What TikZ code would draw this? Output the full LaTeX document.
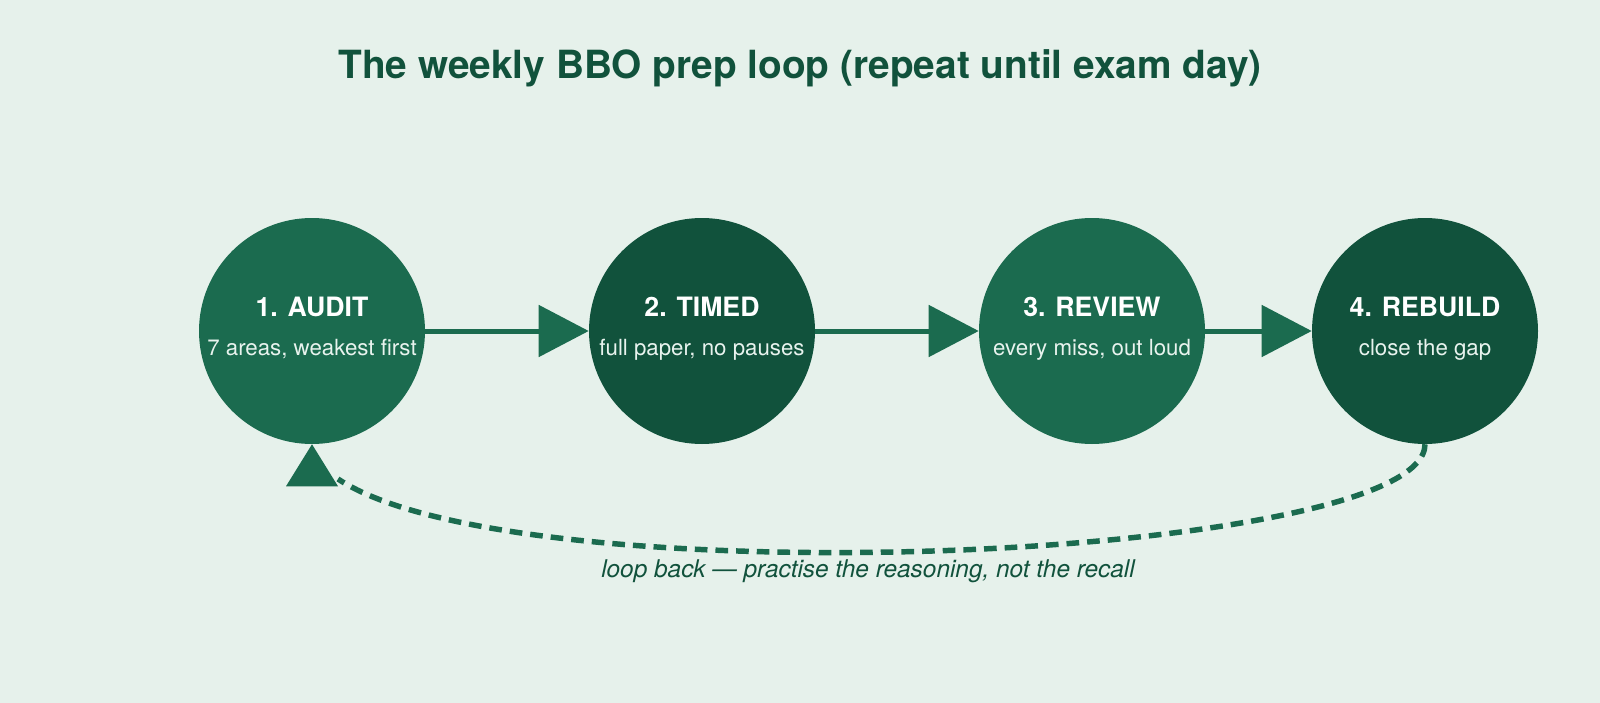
\documentclass[tikz,border=0pt]{standalone}
\usepackage{fontspec}
\setmainfont{TeX Gyre Heros}
\usetikzlibrary{arrows.meta}
\definecolor{bgc}{HTML}{E6F1EB}
\definecolor{midg}{HTML}{1B6B4F}
\definecolor{darkg}{HTML}{11523C}
\definecolor{softw}{HTML}{E8F3EE}
\tikzset{
  stepcircle/.style={circle, minimum size=169.5pt, inner sep=0pt, draw=none},
  stepA/.style={stepcircle, fill=midg},
  stepB/.style={stepcircle, fill=darkg},
  steptitle/.style={anchor=base, text=white, font=\fontsize{20pt}{24pt}\selectfont\bfseries, inner sep=0pt},
  stepsub/.style={anchor=base, text=softw, font=\fontsize{16.7pt}{20pt}\selectfont, inner sep=0pt},
  flowarrow/.style={draw=midg, line width=3.75pt, -{Triangle[length=37.5pt, width=38.25pt]}},
  loopline/.style={draw=midg, line width=4.1pt, dash pattern=on 9.5pt off 6pt},
}
\begin{document}
\begin{tikzpicture}[x=0.75pt, y=-0.75pt]
\fill[bgc] (0,0) rectangle (1600,703);
\useasboundingbox (0,0) rectangle (1600,703);

\node[anchor=base, text=darkg, font=\fontsize{29.1pt}{34pt}\selectfont\bfseries, inner sep=0pt] (title) at (800,78) {The weekly BBO prep loop (repeat until exam day)};

\node[stepA] (c1) at (312,331) {};
\node[stepB] (c2) at (702,331) {};
\node[stepA] (c3) at (1092,331) {};
\node[stepB] (c4) at (1425,331) {};

\node[steptitle] (t1) at (312,316) {1. AUDIT};
\node[stepsub] (s1) at (312,355) {7 areas, weakest first};
\node[steptitle] (t2) at (702,316) {2. TIMED};
\node[stepsub] (s2) at (702,355) {full paper, no pauses};
\node[steptitle] (t3) at (1092,316) {3. REVIEW};
\node[stepsub] (s3) at (1092,355) {every miss, out loud};
\node[steptitle] (t4) at (1425,316) {4. REBUILD};
\node[stepsub] (s4) at (1425,355) {close the gap};

\draw[flowarrow] (c1.east) -- (c2.west);
\draw[flowarrow] (c2.east) -- (c3.west);
\draw[flowarrow] (c3.east) -- (c4.west);

\coordinate (loopend) at (338,479);
\draw[loopline] (c4.south) .. controls (1425,560) and (520,600) .. (loopend);
\fill[midg] (c1.south) -- ++(-26,42) -- ++(52,0) -- cycle;

\node[anchor=base, text=darkg, font=\fontsize{18.3pt}{22pt}\selectfont\itshape, inner sep=0pt] (looplabel) at (868,577) {loop back — practise the reasoning, not the recall};
\end{tikzpicture}
\end{document}
